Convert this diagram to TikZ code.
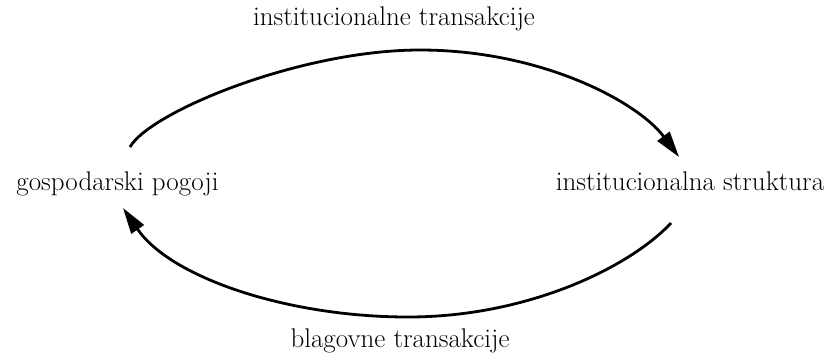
\documentclass[tikz,border=0pt]{standalone}
\usetikzlibrary{arrows.meta}
\begin{document}
\begin{tikzpicture}[x=1pt,y=-1pt,
  lbl/.style={inner sep=0pt,anchor=base,font=\fontsize{27}{32}\selectfont},
  flow/.style={line width=2.8pt,-{Triangle[length=26pt,width=15pt]}}]
\useasboundingbox (0,0) rectangle (832,360);
\node[lbl] (gp) at (117.5,190) {gospodarski pogoji};
\node[lbl] (is) at (690,190) {institucionalna struktura};
\node[lbl] (it) at (394,25) {institucionalne transakcije};
\node[lbl] (bt) at (400,347) {blagovne transakcije};
\coordinate (gpout) at (130,147);
\coordinate (isin) at (679,157);
\coordinate (isout) at (671,223);
\coordinate (gpin) at (123,208);
\coordinate (toptop) at (420,50);
\coordinate (botbot) at (408,317);
\draw[flow] (gpout) .. controls (150,112) and (300,50) .. (toptop)
  .. controls (540,50) and (637,101) .. (isin);
\draw[flow] (isout) .. controls (630,267) and (528,317) .. (botbot)
  .. controls (288,317) and (171,278) .. (gpin);
\end{tikzpicture}
\end{document}
